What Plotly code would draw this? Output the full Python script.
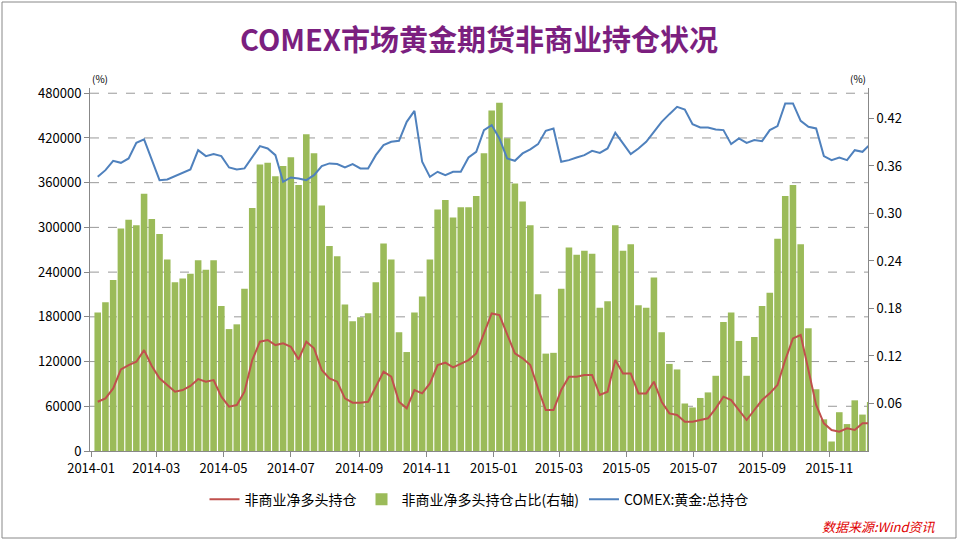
import pandas as pd
import plotly.graph_objects as go

dates = pd.date_range("2014-01-07", periods=101, freq="7D")

ratio = [0.175,0.188,0.216,0.281,0.292,0.285,0.325,0.293,0.274,0.242,0.213,0.218,0.224,0.241,0.229,0.241,
         0.183,0.154,0.160,0.205,0.307,0.362,0.364,0.347,0.360,0.371,0.336,0.400,0.376,0.310,0.259,0.246,
         0.185,0.164,0.169,0.174,0.213,0.262,0.242,0.150,0.125,0.175,0.195,0.242,0.305,0.317,0.295,0.308,
         0.308,0.322,0.376,0.430,0.440,0.395,0.338,0.315,0.285,0.198,0.123,0.124,0.205,0.257,0.248,0.253,
         0.249,0.181,0.189,0.285,0.253,0.261,0.184,0.181,0.219,0.150,0.110,0.103,0.060,0.055,0.067,0.074,
         0.095,0.163,0.175,0.139,0.095,0.144,0.183,0.200,0.268,0.322,0.336,0.261,0.155,0.078,0.040,0.012,
         0.049,0.034,0.064,0.046,0.062]

net_long = [66100,70600,84000,109500,115300,119800,135400,114000,97500,88500,79600,81800,87200,96500,93000,95200,
            72900,59500,61700,79600,122000,146600,148900,142100,144400,139900,122900,146600,137700,108600,97500,93000,
            70600,64800,64800,66100,86300,106400,99700,66100,57200,81800,77300,90700,115300,118500,112200,117500,
            122000,130900,157800,184600,182400,157800,130900,124300,115300,84000,55000,55000,81800,99700,99700,101900,
            101900,75100,79600,122000,104100,104100,77300,77300,93000,66100,50500,48300,39300,39300,41600,43800,
            57200,72900,68400,55000,41600,55000,68400,77300,88500,122000,151100,155600,108600,61700,37100,28200,
            25900,30400,28200,37100,37100]

total_oi = [367800,376800,389300,386600,392500,413400,418000,390200,363400,364300,368800,373200,377700,403600,395600,398300,
            395600,380400,377700,379100,394700,409000,405900,396900,361100,367000,365700,363400,370100,382200,385800,384900,
            380400,384900,379100,379100,396900,410300,414800,416100,441600,456300,388000,367800,374600,370100,374600,374600,
            393800,401400,430500,437200,419300,392500,389300,399200,404600,411700,429600,432700,388000,390200,393800,396900,
            402700,400000,405900,426900,412600,398300,405900,414800,428200,441600,451900,461700,458200,438500,434100,434100,
            431400,430500,411700,419300,413400,417100,415700,430500,435800,466300,466300,442900,434900,432700,395600,390200,
            393800,390200,403600,401400,411700]

left_ticks = [0,60000,120000,180000,240000,300000,360000,420000,480000]
right_ticks = [0.06,0.12,0.18,0.24,0.30,0.36,0.42]
x_ticks = ["2014-01","2014-03","2014-05","2014-07","2014-09","2014-11","2015-01","2015-03","2015-05","2015-07","2015-09","2015-11"]

font = "Noto Sans CJK SC"
fig = go.Figure()
fig.add_trace(go.Scatter(x=dates, y=net_long, name="非商业净多头持仓", mode="lines",
                         line=dict(color="#C0504D", width=2), yaxis="y2"))
fig.add_trace(go.Bar(x=dates, y=ratio, name="非商业净多头持仓占比(右轴)", marker_color="#9BBB59",
                     marker_line_width=0, yaxis="y"))
fig.add_trace(go.Scatter(x=dates, y=total_oi, name="COMEX:黄金:总持仓", mode="lines",
                         line=dict(color="#4F81BD", width=2), yaxis="y2"))

grid = [dict(type="line", xref="paper", x0=0, x1=1, yref="y2", y0=v, y1=v,
             line=dict(color="#999", width=1, dash="dash"), layer="below") for v in left_ticks[1:]]

fig.update_layout(
    width=958, height=540, paper_bgcolor="white", plot_bgcolor="white",
    margin=dict(l=90, r=90, t=88, b=89),
    font=dict(family=font, size=13, color="black"),
    title=dict(text="<b>COMEX市场黄金期货非商业持仓状况</b>", x=0.5, y=0.925, xanchor="center", yanchor="middle",
               font=dict(size=29, color="#7B1F7F", family=font)),
    bargap=0.15, showlegend=True,
    legend=dict(orientation="h", x=0.5, xanchor="center", y=-0.09, yanchor="top",
                traceorder="normal", font=dict(size=14)),
    xaxis=dict(tickvals=[pd.Timestamp(t + "-01") for t in x_ticks], ticktext=x_ticks,
               range=[pd.Timestamp("2013-12-31"), pd.Timestamp("2015-12-06")],
               showline=True, linecolor="#888", ticks="outside", tickcolor="#888",
               tickfont=dict(size=13, color="black"), showgrid=False),
    yaxis=dict(range=[0, 0.4585], side="right", tickvals=right_ticks,
               ticktext=["%.2f" % v for v in right_ticks], showgrid=False,
               showline=True, linecolor="#888", ticks="outside", tickcolor="#888", zeroline=False),
    yaxis2=dict(range=[0, 487000], overlaying="y", side="left", tickvals=left_ticks,
                ticktext=[str(v) for v in left_ticks], showgrid=False,
                showline=True, linecolor="#888", ticks="outside", tickcolor="#888", zeroline=False),
    shapes=grid + [dict(type="rect", xref="paper", yref="paper", x0=-0.1131, x1=1.1131, y0=-0.2397, y1=1.2369,
                        line=dict(color="#888", width=1), layer="below")],
    annotations=[
        dict(text="(%)", xref="paper", yref="paper", x=0, y=1.0, xanchor="left", yanchor="bottom",
             showarrow=False, font=dict(size=10)),
        dict(text="(%)", xref="paper", yref="paper", x=1, y=1.0, xanchor="right", yanchor="bottom",
             showarrow=False, font=dict(size=10)),
        dict(text="<i>数据来源:Wind资讯</i>", xref="paper", yref="paper", x=1.09, y=-0.175, xanchor="right",
             yanchor="top", showarrow=False, font=dict(size=13, color="#E00000")),
    ],
)
fig.write_html("out.html", config={"displayModeBar": False})
with open("out.html", encoding="utf-8") as f:
    html = f.read()
html = html.replace("<body>", '<body style="margin:0;overflow:hidden">', 1)
with open("out.html", "w", encoding="utf-8") as f:
    f.write(html)
